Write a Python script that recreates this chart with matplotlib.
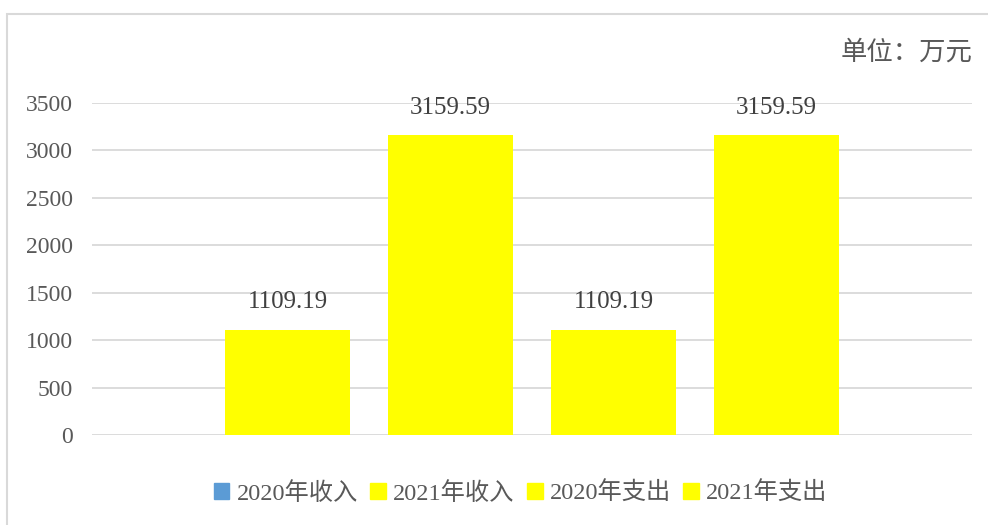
import matplotlib
matplotlib.use('Agg')
from matplotlib import pyplot as plt
from matplotlib.patches import Rectangle

series = ['2020年收入', '2021年收入', '2020年支出', '2021年支出']
values = [1109.19, 3159.59, 1109.19, 3159.59]
bar_colors = ['#FFFF00', '#FFFF00', '#FFFF00', '#FFFF00']
legend_colors = ['#5B9BD5', '#FFFF00', '#FFFF00', '#FFFF00']
yticks = [0, 500, 1000, 1500, 2000, 2500, 3000, 3500]

fam = ['Liberation Serif', 'Noto Sans CJK SC', 'DejaVu Sans']
plt.rcParams['font.family'] = fam
txt = '#595959'

fig = plt.figure(figsize=(9.88, 5.25), dpi=100)
fig.patches.append(Rectangle((7/988, -0.1), 1.2, 1 - 14/525 + 0.1,
                             transform=fig.transFigure, fill=False,
                             edgecolor='#D9D9D9', linewidth=1.5))
ax = fig.add_axes([92/988, 1 - 435/525, 880/988, 332/525])

for i, (s, v) in enumerate(zip(series, values)):
    ax.bar(i, v, width=0.77, color=bar_colors[i], label=s, zorder=3)
    ax.annotate('%.2f' % v, (i, v), xytext=(0, 12), textcoords='offset points',
                ha='center', va='bottom', fontsize=18, color='#404040')

ax.set_xlim(-1.2, 4.2)
ax.set_ylim(0, 3500)
ax.set_yticks(yticks)
ax.set_xticks([])
ax.grid(axis='y', color='#D9D9D9', linewidth=1.3, zorder=0)
for sp in ax.spines.values():
    sp.set_visible(False)
ax.tick_params(axis='y', length=0, pad=14, labelsize=17, labelcolor=txt)

fig.text(972/988, 1 - 52/525, '单位：万元', ha='right', va='center',
         fontsize=19, color=txt, family=['Noto Sans CJK SC', 'DejaVu Sans'])

leg = fig.legend(loc='center', bbox_to_anchor=(0.527, 1 - 493/525), ncol=4,
                 frameon=False, fontsize=17.5, handlelength=0.65, handleheight=0.65,
                 handletextpad=0.3, columnspacing=0.5, labelcolor=txt)
for h, c in zip(leg.legend_handles, legend_colors):
    h.set_color(c)

fig.savefig('out.png', dpi=100)
